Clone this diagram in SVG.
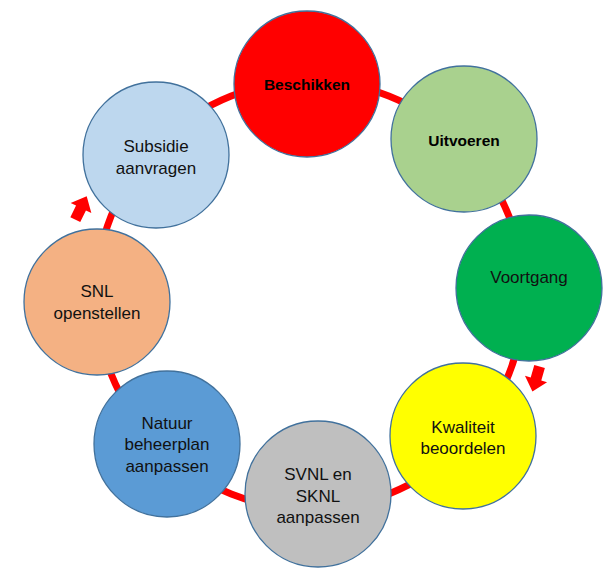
<svg xmlns="http://www.w3.org/2000/svg" width="615" height="581" viewBox="0 0 615 581">
<style>
.node{stroke:#41719C;stroke-width:1.3}
.t{font-family:"Liberation Sans",Arial,sans-serif;font-size:17px;fill:#111;text-anchor:middle}
.b{font-weight:bold;font-size:15.5px;fill:#000}
.arrow{fill:#FF0000}
</style>
<defs>
<path id="blk" d="M0,-13 L11.5,0 L5.5,0 L5.5,13 L-5.5,13 L-5.5,0 L-11.5,0 Z"/>
</defs>
<rect width="615" height="581" fill="#fff"/>
<g id="connectors">
<circle cx="310" cy="295" r="214" fill="none" stroke="#FF0000" stroke-width="7"/>
<use href="#blk" class="arrow" transform="translate(81,208) rotate(26)"/>
<use href="#blk" class="arrow" transform="translate(536,379) rotate(196)"/>
</g>
<g id="beschikken">
<circle class="node" cx="307" cy="84" r="73" fill="#FF0000"/>
<text class="t b" x="307" y="90">Beschikken</text>
</g>
<g id="uitvoeren">
<circle class="node" cx="464" cy="139" r="73" fill="#A9D18E"/>
<text class="t b" x="464" y="146">Uitvoeren</text>
</g>
<g id="voortgang">
<circle class="node" cx="529" cy="288" r="73" fill="#00B050"/>
<text class="t" x="529" y="283">Voortgang</text>
</g>
<g id="kwaliteit">
<circle class="node" cx="463" cy="436" r="73" fill="#FFFF00"/>
<text class="t" x="463" y="433">Kwaliteit</text>
<text class="t" x="463" y="454">beoordelen</text>
</g>
<g id="svnl">
<circle class="node" cx="318" cy="494" r="73" fill="#BFBFBF"/>
<text class="t" x="318" y="480">SVNL en</text>
<text class="t" x="318" y="501.5">SKNL</text>
<text class="t" x="318" y="523">aanpassen</text>
</g>
<g id="natuur">
<circle class="node" cx="167" cy="444" r="73" fill="#5B9BD5"/>
<text class="t" x="167" y="428.5">Natuur</text>
<text class="t" x="167" y="450">beheerplan</text>
<text class="t" x="167" y="471.5">aanpassen</text>
</g>
<g id="snl">
<circle class="node" cx="97" cy="302" r="73" fill="#F4B183"/>
<text class="t" x="97" y="297">SNL</text>
<text class="t" x="97" y="318.5">openstellen</text>
</g>
<g id="subsidie">
<circle class="node" cx="156" cy="155" r="73" fill="#BDD7EE"/>
<text class="t" x="156" y="151.5">Subsidie</text>
<text class="t" x="156" y="174">aanvragen</text>
</g>
</svg>
